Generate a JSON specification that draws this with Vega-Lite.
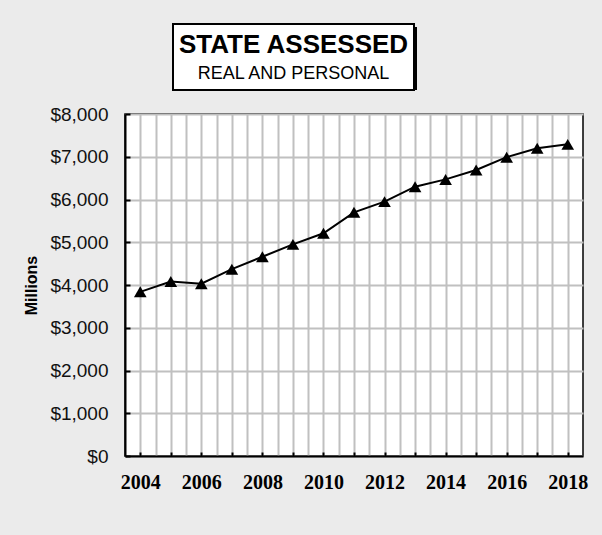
{
  "$schema": "https://vega.github.io/schema/vega-lite/v6.json",
  "background": "#ebebeb",
  "padding": {"left": 23, "top": 23, "right": 16, "bottom": 45},
  "config": {"font": "Liberation Sans", "view": {"stroke": null}},
  "spacing": 13,
  "vconcat": [
    {
      "spacing": 20,
      "hconcat": [
        {"width": 27, "height": 66, "data": {"values": []}, "mark": "point", "encoding": {}},
        {
          "width": 241, "height": 66,
          "data": {"values": [{"title": "STATE ASSESSED", "subtitle": "REAL AND PERSONAL"}]},
          "layer": [
            {"mark": {"type": "rect", "color": "black", "xOffset": 3, "yOffset": 3, "x2Offset": 3, "y2Offset": 3, "clip": false}, "encoding": {}},
            {"mark": {"type": "rect", "fill": "white", "stroke": "black", "strokeWidth": 2}, "encoding": {}},
            {"mark": {"type": "text", "fontSize": 26, "fontWeight": "bold", "color": "black", "dy": -12}, "encoding": {"text": {"field": "title"}}},
            {"mark": {"type": "text", "fontSize": 18, "color": "black", "dy": 17}, "encoding": {"text": {"field": "subtitle"}}}
          ]
        }
      ]
    },
    {
      "width": 458, "height": 342,
      "view": {"stroke": "black", "strokeWidth": 1.5, "fill": "white"},
      "data": {"values": [
        {"year": 2004, "value": 3840},
        {"year": 2005, "value": 4080},
        {"year": 2006, "value": 4030},
        {"year": 2007, "value": 4370},
        {"year": 2008, "value": 4660},
        {"year": 2009, "value": 4950},
        {"year": 2010, "value": 5210},
        {"year": 2011, "value": 5700},
        {"year": 2012, "value": 5950},
        {"year": 2013, "value": 6300},
        {"year": 2014, "value": 6470},
        {"year": 2015, "value": 6690},
        {"year": 2016, "value": 6990},
        {"year": 2017, "value": 7200},
        {"year": 2018, "value": 7290}
      ]},
      "encoding": {
        "x": {
          "field": "year", "type": "quantitative",
          "scale": {"domain": [2003.5, 2018.5], "nice": false, "zero": false},
          "axis": {
            "title": null,
            "values": [2004, 2004.5, 2005, 2005.5, 2006, 2006.5, 2007, 2007.5, 2008, 2008.5, 2009, 2009.5, 2010, 2010.5, 2011, 2011.5, 2012, 2012.5, 2013, 2013.5, 2014, 2014.5, 2015, 2015.5, 2016, 2016.5, 2017, 2017.5, 2018],
            "labelExpr": "datum.value % 2 === 0 ? format(datum.value, 'd') : ''",
            "labelOverlap": false,
            "labelFlush": false,
            "labelFont": "Liberation Serif",
            "labelFontWeight": "bold",
            "labelFontSize": 20,
            "labelColor": "black",
            "labelPadding": 20,
            "grid": true,
            "gridColor": "#c0c0c0",
            "gridOpacity": 1,
            "gridWidth": 2,
            "domainColor": "black",
            "domainWidth": 2,
            "tickWidth": 2,
            "tickSize": -4,
            "tickColor": {"condition": {"test": "datum.value % 1 === 0", "value": "black"}, "value": "transparent"}
          }
        },
        "y": {
          "field": "value", "type": "quantitative",
          "scale": {"domain": [0, 8000], "nice": false},
          "axis": {
            "title": "Millions",
            "titleFontSize": 16,
            "titleFontWeight": "bold",
            "titleColor": "black",
            "titlePadding": 10,
            "values": [0, 1000, 2000, 3000, 4000, 5000, 6000, 7000, 8000],
            "format": "$,d",
            "labelFontSize": 19,
            "labelColor": "#111111",
            "labelPadding": 22,
            "labelFlush": false,
            "grid": true,
            "gridColor": "#c0c0c0",
            "gridWidth": 2,
            "domainColor": "black",
            "domainWidth": 2,
            "tickColor": "black",
            "tickWidth": 2,
            "tickSize": -5
          }
        }
      },
      "layer": [
        {"mark": {"type": "line", "color": "black", "strokeWidth": 2}},
        {"mark": {"type": "point", "shape": "triangle-up", "filled": true, "color": "black", "opacity": 1, "size": 160}}
      ]
    }
  ]
}
